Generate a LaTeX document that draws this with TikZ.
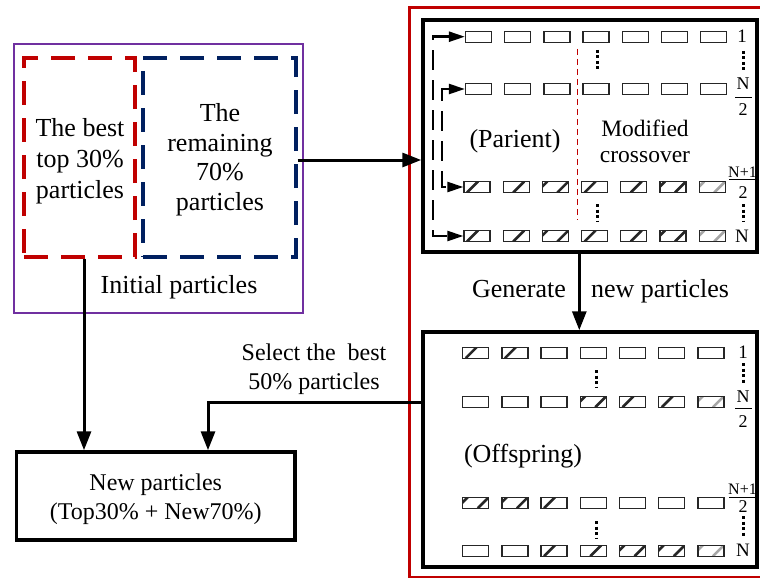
\documentclass[tikz,border=0pt]{standalone}
\usepackage{fontspec}
\setmainfont{Liberation Serif}
\usetikzlibrary{arrows.meta}
\definecolor{pur}{HTML}{7030A0}
\definecolor{dred}{HTML}{C00000}
\definecolor{navy}{HTML}{002060}
\begin{document}
\begin{tikzpicture}[x=1pt,y=-1pt,
  big/.style={font=\fontsize{26}{31}\selectfont, align=center, inner sep=0},
  mid/.style={font=\fontsize{24}{29}\selectfont, align=center, inner sep=0},
  lbl/.style={font=\fontsize{19}{19}\selectfont, inner sep=0},
  frc/.style={font=\fontsize{18}{18}\selectfont, inner sep=0},
  frcs/.style={font=\fontsize{16}{16}\selectfont, inner sep=0},
  box/.style={draw, line width=3.5pt, inner sep=0},
  arr/.style={line width=3pt, -{Triangle[length=19pt,width=14pt]}},
  brk/.style={line width=2.4pt, dash pattern=on 20pt off 10pt, {Triangle[length=16pt,width=10pt]}-{Triangle[length=16pt,width=10pt]}},
  dotline/.style={line width=3pt, dash pattern=on 3pt off 2.5pt},
  fbar/.style={line width=1pt},
  cellP/.style={draw=black!85, line width=1.3pt, minimum width=26pt, minimum height=11pt, inner sep=0},
  hatch/.style={path picture={\foreach \o in {#1}{\draw[line width=2.6pt] ([xshift=\o pt]path picture bounding box.south west) -- ([xshift={(\o+11)*1pt}]path picture bounding box.north west);}}},
  hatchg/.style={path picture={\foreach \o in {#1}{\draw[line width=2.6pt, gray!70] ([xshift=\o pt]path picture bounding box.south west) -- ([xshift={(\o+11)*1pt}]path picture bounding box.north west);}}},
  cellA/.style={cellP, hatch={3}},
  cellD/.style={cellP, hatch={10}},
  cellB/.style={cellP, hatch={-6,15}},
  cellC/.style={cellP, hatchg={-6,15}}
]
\useasboundingbox (0,0) rectangle (760,578);

% outer red frame
\node[draw=dred, line width=3pt, minimum width=361pt, minimum height=569pt, inner sep=0] (outer) at (589.5,292.5) {};

% left part
\node[draw=pur, line width=2.6pt, minimum width=289pt, minimum height=269pt, inner sep=0] (init) at (158.5,178.5) {};
\node[draw=dred, line width=3.4pt, dash pattern=on 24pt off 13pt, minimum width=111pt, minimum height=199pt, inner sep=0] (best) at (79.5,157.5) {};
\node[draw=navy, line width=3.4pt, dash pattern=on 24pt off 13pt, minimum width=153pt, minimum height=199pt, inner sep=0] (rem) at (219.5,157.5) {};
\node[big] (bestt) at (80,161.5) {The best\\top 30\%\\particles};
\node[big, font=\fontsize{26}{29.5}\selectfont] (remt) at (220,159.5) {The\\remaining\\70\%\\particles};
\node[big] (initlbl) at (179,287) {Initial particles};
\node[box, minimum width=278.5pt, minimum height=88pt, inner sep=0] (newp) at (155.75,496) {};
\node[mid] (newpt) at (155.75,499.5) {New particles\\(Top30\% + New70\%)};
\node[mid] (sel) at (314,369) {Select the \ best\\50\% particles};

% right boxes
\node[box, minimum width=334pt, minimum height=232pt] (par) at (590,136) {};
\node[box, minimum width=334pt, minimum height=235pt] (off) at (590,449.5) {};

\node[big] (parlbl) at (515,141) {(Parient)};
\node[font=\fontsize{23.5}{26}\selectfont, align=center, inner sep=0] (mod) at (645,141) {Modified\\crossover};
\node[big] (offlbl) at (523,456) {(Offspring)};
\node[big, anchor=base] (gen1) at (519,297) {Generate};
\node[big, anchor=base] (gen2) at (660,297) {new particles};

% parent cells
\foreach \k [count=\i] in {P,P,P,P,P,P,P} \node[cell\k] (pa\i) at ({478.5+39.2*(\i-1)},36.7) {};
\foreach \k [count=\i] in {P,P,P,P,P,P,P} \node[cell\k] (pb\i) at ({478.5+39.2*(\i-1)},89) {};
\foreach \k [count=\i] in {A,D,B,A,D,B,C} \node[cell\k] (pc\i) at ({477+39.2*(\i-1)},187) {};
\foreach \k [count=\i] in {A,D,B,A,D,B,C} \node[cell\k] (pd\i) at ({477+39.2*(\i-1)},236) {};

% offspring cells
\foreach \k [count=\i] in {A,A,P,P,P,P,P} \node[cell\k] (oa\i) at ({475.7+39.2*(\i-1)},352.7) {};
\foreach \k [count=\i] in {P,P,P,B,A,A,C} \node[cell\k] (ob\i) at ({475.7+39.2*(\i-1)},401.7) {};
\foreach \k [count=\i] in {B,B,A,P,P,P,P} \node[cell\k] (oc\i) at ({475.7+39.2*(\i-1)},502.7) {};
\foreach \k [count=\i] in {P,P,A,D,B,B,C} \node[cell\k] (od\i) at ({475.7+39.2*(\i-1)},550.7) {};

% parent row labels
\node[lbl] (pl1) at (742,36.7) {1};
\draw[dotline] (743,51) -- (743,71);
\node[frc] (plN) at (743,84) {N};
\draw[fbar] (735,97) -- (752,97);
\node[frc] (pl2) at (743,110) {2};
\node[frcs] (plN1) at (742.5,172) {N+1};
\draw[fbar] (729,179) -- (757,179);
\node[frc] (pl22) at (743,193) {2};
\draw[dotline] (743,204) -- (743,222);
\node[lbl] (plNN) at (742,236) {N};
\draw[dotline] (597,50) -- (597,71);
\draw[dotline] (597,204) -- (597,222);
\draw[dred, line width=1.3pt, dash pattern=on 6pt off 4pt] (577.7,49) -- (577.7,220);

% offspring row labels
\node[lbl] (ol1) at (743,352.7) {1};
\draw[dotline] (743,363) -- (743,383);
\node[frc] (olN) at (743,397) {N};
\draw[fbar] (735,408) -- (752,408);
\node[frc] (ol2) at (743,422) {2};
\node[frcs] (olN1) at (742.5,489) {N+1};
\draw[fbar] (729,497) -- (757,497);
\node[frc] (ol22) at (743,507) {2};
\draw[dotline] (743,516) -- (743,537);
\node[lbl] (olNN) at (743,550.7) {N};
\draw[dotline] (596.7,370) -- (596.7,388);
\draw[dotline] (596.7,521) -- (596.7,538);

% bracket connectors
\coordinate (bo) at (433,0);
\coordinate (bi) at (441.7,0);
\draw[brk] (pa1.west) -- (pa1.west -| bo) -- (pd1.west -| bo) -- (pd1.west);
\draw[brk] (pb1.west) -- (pb1.west -| bi) -- (pc1.west -| bi) -- (pc1.west);

% main connectors
\draw[arr] ([yshift=-2.5pt]rem.east) -- ([yshift=-2.5pt]rem.east -| par.west);
\coordinate (gx) at (579.3,0);
\draw[arr] (par.south -| gx) -- (off.north -| gx);
\coordinate (sx) at (208,402);
\draw[arr] (off.west |- sx) -- (sx) -- (sx |- newp.north);
\coordinate (ax) at (84,0);
\draw[arr] (best.south -| ax) -- (newp.north -| ax);
\end{tikzpicture}
\end{document}
